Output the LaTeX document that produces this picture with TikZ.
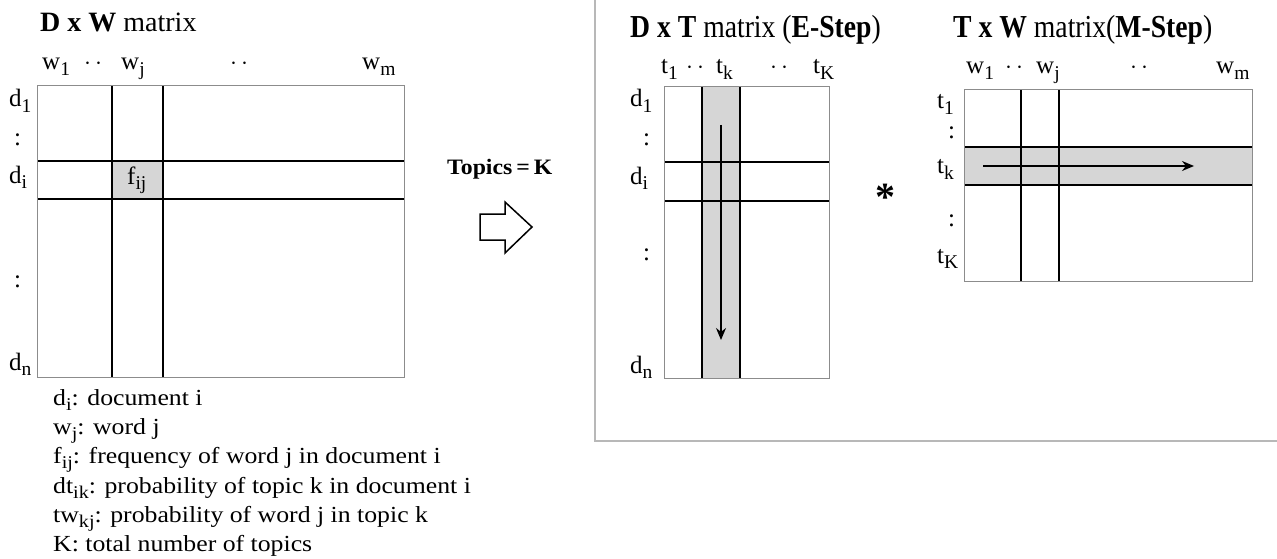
\documentclass[tikz,border=0pt]{standalone}
\usepackage{fontspec}
\setmainfont{Liberation Serif}
\newfontfamily\legfont[FakeStretch=1.12]{Liberation Serif}
\newcommand\lsub[1]{\raisebox{-0.5ex}{\scalebox{0.78}{#1}}}
\usetikzlibrary{arrows.meta}
\tikzset{
  lbl/.style={inner sep=0pt, anchor=base west, font=\fontsize{25}{28}\selectfont},
  leg/.style={inner sep=0pt, anchor=base west, font=\legfont\fontsize{23}{26}\selectfont},
  ttl/.style={inner sep=0pt, anchor=base west, font=\fontsize{28}{32}\selectfont},
  rttl/.style={inner sep=0pt, anchor=base west, font=\fontsize{32}{36}\selectfont},
  frame/.style={draw=black!45, line width=1pt},
  gridline/.style={draw=black, line width=1.5pt},
  band/.style={fill=black!16},
  flow/.style={-{Stealth[length=12pt,width=10pt]}, line width=1.3pt},
  panel/.style={draw=black!28, line width=2pt},
  blockarrow/.style={draw=black, line width=1.5pt, fill=white},
}
\begin{document}
\begin{tikzpicture}[x=1pt,y=-1pt]
\useasboundingbox (0,0) rectangle (1277,559);

% right panel border
\draw[panel] (595,-3) -- (595,441) -- (1280,441);

% ---------- D x W matrix ----------
\fill[band] (112,161) rectangle (163,199);
\draw[gridline] (112,86) -- (112,377) (163,86) -- (163,377)
                (37,161) -- (404,161) (37,199) -- (404,199);
\draw[frame] (37,86) rectangle (404,377);
\node[ttl] (t1) at (40,32) {\textbf{D x W} matrix};
\node[lbl] (w1) at (42,70) {w\lsub{1}};
\node[lbl] (c1) at (84,70) {$\cdot\,\cdot$};
\node[lbl] (wj) at (121,70) {w\lsub{j}};
\node[lbl] (c2) at (230,70) {$\cdot\,\cdot$};
\node[lbl] (wm) at (362,70) {w\lsub{m}};
\node[lbl] (d1) at (9,107) {d\lsub{1}};
\node[lbl] (v1) at (14,146) {:};
\node[lbl] (di) at (9,183) {d\lsub{i}};
\node[lbl] (v2) at (14,287) {:};
\node[lbl] (dn) at (9,370) {d\lsub{n}};
\node[lbl] (fij) at (127,184) {f\lsub{ij}};

% legend
\node[leg] (l1) at (53,405) {d\lsub{i}: document i};
\node[leg] (l2) at (53,434) {w\lsub{j}: word j};
\node[leg] (l3) at (53,463) {f\lsub{ij}: frequency of word j in document i};
\node[leg] (l4) at (53,493) {dt\lsub{ik}: probability of topic k in document i};
\node[leg] (l5) at (53,522) {tw\lsub{kj}: probability of word j in topic k};
\node[leg] (l6) at (53,551) {K: total number of topics};

% Topics = K and block arrow
\node[inner sep=0pt, anchor=base west, font=\fontsize{22}{24}\selectfont\bfseries] (tk) at (447,175) {\scalebox{1.08}[1]{Topics\,=\,K}};
\draw[blockarrow] (480,214) -- (505,214) -- (505,202) -- (532,227) -- (505,253) -- (505,240) -- (480,240) -- cycle;

% ---------- D x T matrix ----------
\fill[band] (702,87) rectangle (740,378);
\draw[gridline] (702,87) -- (702,378) (740,87) -- (740,378)
                (664,162) -- (829,162) (664,201) -- (829,201);
\draw[frame] (664,87) rectangle (829,378);
\coordinate (ea) at (721,125);
\coordinate (eb) at (721,340);
\draw[flow] (ea) -- (eb);
\node[rttl] (t2) at (630,38) {\scalebox{0.865}[1]{\textbf{D x T} matrix (\textbf{E-Step})}};
\node[lbl] (tt1) at (661,74) {t\lsub{1}};
\node[lbl] (c3) at (686,74) {$\cdot\,\cdot$};
\node[lbl] (ttk) at (716,74) {t\lsub{k}};
\node[lbl] (c4) at (770,74) {$\cdot\,\cdot$};
\node[lbl] (ttK) at (813,74) {t\lsub{K}};
\node[lbl] (e1) at (630,107) {d\lsub{1}};
\node[lbl] (ev1) at (643,146) {:};
\node[lbl] (ei) at (630,184) {d\lsub{i}};
\node[lbl] (ev2) at (643,260) {:};
\node[lbl] (en) at (630,373) {d\lsub{n}};

% asterisk
\node[inner sep=0pt, font=\fontsize{40}{40}\selectfont\bfseries] (ast) at (885,197) {*};

% ---------- T x W matrix ----------
\fill[band] (964,147) rectangle (1252,185);
\draw[gridline] (1021,90) -- (1021,281) (1059,90) -- (1059,281)
                (964,147) -- (1252,147) (964,185) -- (1252,185);
\draw[frame] (964,90) rectangle (1252,281);
\coordinate (ma) at (983,166);
\coordinate (mb) at (1194,166);
\draw[flow] (ma) -- (mb);
\node[rttl] (t3) at (953,38) {\scalebox{0.865}[1]{\textbf{T x W} matrix(\textbf{M-Step})}};
\node[lbl] (m1) at (966,74) {w\lsub{1}};
\node[lbl] (c5) at (1005,74) {$\cdot\,\cdot$};
\node[lbl] (mj) at (1036,74) {w\lsub{j}};
\node[lbl] (c6) at (1130,74) {$\cdot\,\cdot$};
\node[lbl] (mm) at (1216,74) {w\lsub{m}};
\node[lbl] (r1) at (937,109) {t\lsub{1}};
\node[lbl] (rv1) at (948,139) {:};
\node[lbl] (rk) at (937,174) {t\lsub{k}};
\node[lbl] (rv2) at (948,226) {:};
\node[lbl] (rK) at (937,263) {t\lsub{K}};
\end{tikzpicture}
\end{document}
